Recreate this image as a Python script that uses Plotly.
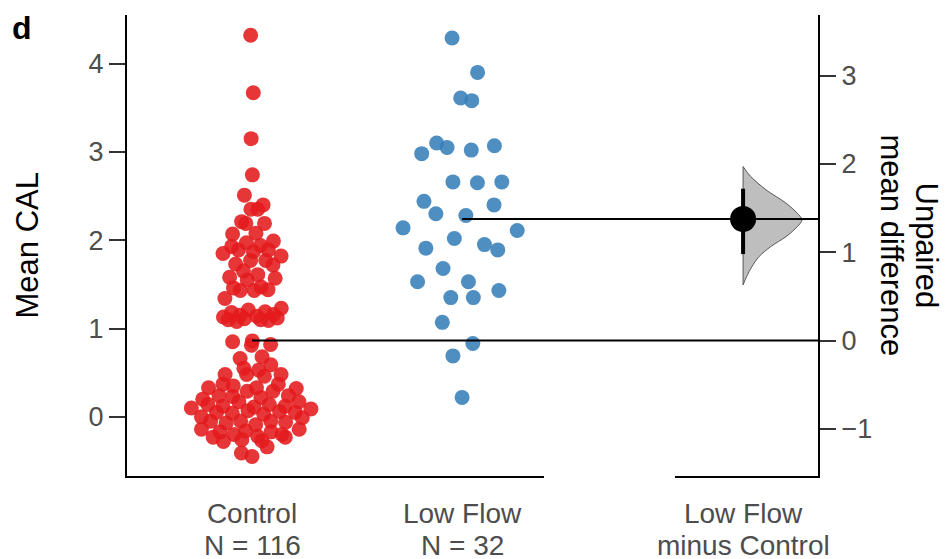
import numpy as np
import plotly.graph_objects as go

# ---------------- data ----------------
groups = ["Control", "Low Flow"]
group_n_labels = ["N = 116", "N = 32"]
delta_labels = ["Low Flow", "minus Control"]

control_cal = [
    4.32, 3.67, 3.15, 2.74, 2.51, 2.35, 2.35, 2.40, 2.21, 2.19, 2.19, 2.07, 2.08,
    1.97, 1.99, 1.93, 1.94, 1.85, 1.89, 1.87, 1.89, 1.82, 1.73, 1.77, 1.77, 1.72,
    1.65, 1.61, 1.58, 1.57, 1.55, 1.43, 1.46, 1.44, 1.47, 1.43, 1.34,
    1.23, 1.21, 1.19, 1.18, 1.16, 1.15, 1.14, 1.12, 1.11, 1.10, 1.09, 1.10, 1.08, 1.13,
    0.81, 0.85, 0.82, 0.86, 0.66, 0.68, 0.59, 0.55, 0.53, 0.48, 0.48, 0.48, 0.46,
    0.35, 0.29, 0.37, 0.33, 0.37, 0.32, 0.29, 0.33, 0.24, 0.23, 0.24, 0.22, 0.20,
    0.11, 0.12, 0.14, 0.17, 0.12, 0.17, 0.10, 0.14, 0.09,
    0.00, 0.05, 0.05, 0.06, 0.03, 0.04, 0.07, -0.01,
    -0.05, -0.07, -0.05, -0.09, -0.05, -0.06,
    -0.14, -0.16, -0.20, -0.17, -0.22, -0.17, -0.20, -0.14,
    -0.23, -0.28, -0.26, -0.27, -0.34, -0.23, -0.41, -0.45,
]
low_flow_cal = [
    4.29, 3.90, 3.61, 3.58, 3.10, 3.05, 2.98, 3.02, 3.07, 2.66, 2.65, 2.66,
    2.44, 2.40, 2.30, 2.28, 2.14, 2.11, 2.02, 1.91, 1.95, 1.89, 1.68, 1.53,
    1.53, 1.43, 1.35, 1.35, 1.07, 0.83, 0.69, 0.22,
]

# bootstrap distribution of the mean difference (profile)
boot_diff = [1.971, 1.857, 1.707, 1.555, 1.442, 1.367, 1.291, 1.178, 1.065,
             0.951, 0.838, 0.725, 0.631]
boot_density = [0.0, 0.13, 0.39, 0.73, 0.92, 1.0, 0.92, 0.73, 0.47,
                0.27, 0.15, 0.06, 0.0]
ci_low, ci_high = 0.98, 1.72

y_ticks = [0, 1, 2, 3, 4]
y2_ticks = [-1, 0, 1, 2, 3]
y2_ticktext = ["\u22121", "0", "1", "2", "3"]

# ---------------- styling / layout constants ----------------
W, H = 947, 559
ML, MR, MT, MB = 127, 129, 15, 83
PW, PH = W - ML - MR, H - MT - MB
RED = "#E41A1C"
BLUE = "#377EB8"
TICK_GREY = "#4D4D4D"
FONT = "Liberation Sans, Arial, sans-serif"

yrange = [-0.67, 4.55]
x1_dom, x1_rng = [0.0, 0.6035], [-0.595, 1.39]
x2_dom, x2_rng = [0.793, 1.0], [-0.5, 0.55]

ctrl = np.array(control_cal)
low = np.array(low_flow_cal)
ctrl_mean = ctrl.mean()
low_mean = low.mean()
mean_diff = low_mean - ctrl_mean
y2range = [yrange[0] - ctrl_mean, yrange[1] - ctrl_mean]

px_per_x2 = PW * (x2_dom[1] - x2_dom[0]) / (x2_rng[1] - x2_rng[0])


def van_der_corput(n, base=2):
    seq = []
    for k in range(1, n + 1):
        v, denom, q = 0.0, 1.0, k
        while q:
            q, r = divmod(q, base)
            denom *= base
            v += r / denom
        seq.append(v)
    return np.array(seq)


def quasirandom_offsets(values, width=0.3, adjust=0.5):
    """Quasirandom (beeswarm-like) horizontal layout, as in ggbeeswarm."""
    y = np.asarray(values, dtype=float)
    n = len(y)
    sd = y.std(ddof=1)
    iqr = np.subtract(*np.percentile(y, [75, 25]))
    bw = 0.9 * min(sd, iqr / 1.34) * n ** (-0.2) * adjust
    dens = np.array([np.exp(-0.5 * ((yi - y) / bw) ** 2).sum() for yi in y])
    dens = dens / dens.max()
    ranks = np.empty(n, dtype=int)
    ranks[np.argsort(y, kind="stable")] = np.arange(n)
    vdc = van_der_corput(n)[ranks]
    return (vdc - 0.5) * 2 * width * dens


ctrl_x = 0 + quasirandom_offsets(ctrl)
low_x = 1 + quasirandom_offsets(low)

fig = go.Figure()

fig.add_trace(go.Scatter(
    x=ctrl_x, y=ctrl, mode="markers", xaxis="x", yaxis="y",
    marker=dict(size=15, color=RED, opacity=0.88, line=dict(width=0)),
    showlegend=False, hoverinfo="y"))
fig.add_trace(go.Scatter(
    x=low_x, y=low, mode="markers", xaxis="x", yaxis="y",
    marker=dict(size=15, color=BLUE, opacity=0.88, line=dict(width=0)),
    showlegend=False, hoverinfo="y"))

# half violin of bootstrap distribution
VIOLIN_HALF_W = 59 / px_per_x2
vx = [0 + VIOLIN_HALF_W * d for d in boot_density]
fig.add_trace(go.Scatter(
    x=vx, y=boot_diff, mode="lines", xaxis="x2", yaxis="y2",
    line=dict(color="#555555", width=1, shape="spline", smoothing=0.8),
    fill="tozerox", fillcolor="#BEBEBE", showlegend=False, hoverinfo="skip"))
fig.add_trace(go.Scatter(
    x=[0, 0], y=[boot_diff[-1], boot_diff[0]], mode="lines", xaxis="x2", yaxis="y2",
    line=dict(color="#555555", width=1), showlegend=False, hoverinfo="skip"))
# CI bar
fig.add_trace(go.Scatter(
    x=[0, 0], y=[ci_low, ci_high], mode="lines", xaxis="x2", yaxis="y2",
    line=dict(color="black", width=4), showlegend=False, hoverinfo="skip"))
# mean difference dot
fig.add_trace(go.Scatter(
    x=[0], y=[mean_diff], mode="markers", xaxis="x2", yaxis="y2",
    marker=dict(size=26, color="black"), showlegend=False, hoverinfo="y"))


def x1_to_paper(v):
    return x1_dom[0] + (v - x1_rng[0]) / (x1_rng[1] - x1_rng[0]) * (x1_dom[1] - x1_dom[0])


shapes = [
    dict(type="line", xref="paper", yref="y", x0=x1_to_paper(0), x1=1.0,
         y0=ctrl_mean, y1=ctrl_mean, line=dict(color="black", width=2)),
    dict(type="line", xref="paper", yref="y", x0=x1_to_paper(1), x1=1.0,
         y0=low_mean, y1=low_mean, line=dict(color="black", width=2)),
]


def px_x(p):
    return (p - ML) / PW


def px_y(p):
    return (MT + PH - p) / PH


annotations = [
    dict(text="Mean CAL", x=px_x(27), y=0.5, xref="paper", yref="paper",
         textangle=-90, showarrow=False, font=dict(size=31, color="black", family=FONT),
         xanchor="center", yanchor="middle"),
    dict(text="Unpaired", x=px_x(926), y=0.5, xref="paper", yref="paper",
         textangle=90, showarrow=False, font=dict(size=31, color="black", family=FONT),
         xanchor="center", yanchor="middle"),
    dict(text="mean difference", x=px_x(891), y=0.5, xref="paper", yref="paper",
         textangle=90, showarrow=False, font=dict(size=31, color="black", family=FONT),
         xanchor="center", yanchor="middle"),
    dict(text="<b>d</b>", x=px_x(22), y=px_y(28), xref="paper", yref="paper",
         showarrow=False, font=dict(size=32, color="black", family=FONT),
         xanchor="center", yanchor="middle"),
]
for i, lab in enumerate(group_n_labels):
    annotations.append(dict(text=lab, x=i, xref="x", y=px_y(545), yref="paper",
                            showarrow=False, xanchor="center", yanchor="middle",
                            font=dict(size=28, color=TICK_GREY, family=FONT)))
annotations.append(dict(text=delta_labels[1], x=0, xref="x2", y=px_y(545), yref="paper",
                        showarrow=False, xanchor="center", yanchor="middle",
                        font=dict(size=28, color=TICK_GREY, family=FONT)))

axis_common = dict(showgrid=False, zeroline=False, showline=True, linecolor="black",
                   linewidth=2)

fig.update_layout(
    width=W, height=H,
    margin=dict(l=ML, r=MR, t=MT, b=MB, pad=0),
    plot_bgcolor="white", paper_bgcolor="white",
    font=dict(family=FONT, color=TICK_GREY),
    xaxis=dict(domain=x1_dom, range=x1_rng, anchor="y", tickvals=[0, 1], ticktext=groups,
               ticks="", ticklabelstandoff=11, tickfont=dict(size=28, color=TICK_GREY),
               **axis_common),
    xaxis2=dict(domain=x2_dom, range=x2_rng, anchor="y2", tickvals=[0],
                ticktext=[delta_labels[0]], ticks="", ticklabelstandoff=11,
                tickfont=dict(size=28, color=TICK_GREY), **axis_common),
    yaxis=dict(domain=[0, 1], range=yrange, anchor="x", tickvals=y_ticks,
               ticks="outside", ticklen=16, tickwidth=2, tickcolor="#333333",
               tickfont=dict(size=27, color=TICK_GREY), **axis_common),
    yaxis2=dict(domain=[0, 1], range=y2range, anchor="x2", side="right", tickvals=y2_ticks,
                ticktext=y2_ticktext,
                ticks="outside", ticklen=16, tickwidth=2, tickcolor="#333333",
                tickfont=dict(size=27, color=TICK_GREY), **axis_common),
    shapes=shapes,
    annotations=annotations,
)

fig.write_html("out.html", config={"displayModeBar": False},
               post_script="document.body.style.margin='0px';")
